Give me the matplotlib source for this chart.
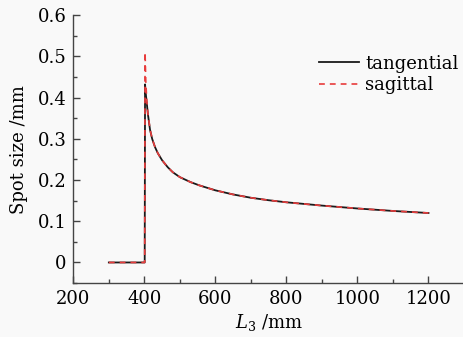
import matplotlib
matplotlib.use("Agg")
import matplotlib.pyplot as plt
from matplotlib.ticker import MultipleLocator

plt.rcParams['font.family'] = ['DejaVu Serif']
plt.rcParams['mathtext.fontset'] = 'dejavuserif'

tan_x = [300, 401, 402, 404, 407, 410, 416, 422, 430, 438, 450, 466, 480, 500, 530, 555,
         600, 650, 700, 750, 800, 900, 1000, 1100, 1200]
tan_y = [0, 0, 0.432, 0.41, 0.385, 0.36, 0.322, 0.30, 0.28, 0.265, 0.248, 0.231, 0.219,
         0.207, 0.195, 0.187, 0.175, 0.165, 0.157, 0.151, 0.146, 0.138, 0.131, 0.125, 0.120]
sag_x = [300, 401, 402, 404, 407, 410, 416, 422, 430, 438, 450, 466, 480, 500, 530, 555,
         600, 650, 700, 750, 800, 900, 1000, 1100, 1200]
sag_y = [0, 0, 0.51, 0.44, 0.39, 0.362, 0.323, 0.30, 0.28, 0.265, 0.248, 0.231, 0.219,
         0.207, 0.195, 0.187, 0.175, 0.165, 0.157, 0.151, 0.146, 0.138, 0.131, 0.125, 0.120]

bg = '#f9f9f9'
fig = plt.figure(figsize=(4.64, 3.37), dpi=100, facecolor=bg)
ax = fig.add_axes([0.158, 0.160, 0.842, 0.795], facecolor=bg)

ax.plot(tan_x, tan_y, color='#1a1a1a', lw=1.3, label='tangential')
ax.plot(sag_x, sag_y, color='#e83c3c', lw=1.2, ls=(0, (3.5, 3)), label='sagittal')

ax.set_xlim(200, 1300)
ax.set_ylim(-0.05, 0.6)
ax.xaxis.set_minor_locator(MultipleLocator(100))
ax.yaxis.set_minor_locator(MultipleLocator(0.05))
ax.set_xticks([200, 400, 600, 800, 1000, 1200])
ax.set_xticklabels(['200', '400', '600', '800', '1000', '1200'])
ax.set_yticks([0, 0.1, 0.2, 0.3, 0.4, 0.5, 0.6])
ax.set_yticklabels(['0', '0.1', '0.2', '0.3', '0.4', '0.5', '0.6'])

for s in ['top', 'right']:
    ax.spines[s].set_visible(False)
for s in ['left', 'bottom']:
    ax.spines[s].set_color('#444444')
    ax.spines[s].set_linewidth(1.0)

ax.tick_params(which='major', direction='in', length=5, width=1, color='#444444',
               labelsize=13, pad=5)
ax.tick_params(which='minor', direction='in', length=3, width=1, color='#444444')

ax.set_xlabel('$L_3$ /mm', fontsize=13, labelpad=3)
ax.set_ylabel('Spot size /mm', fontsize=13, labelpad=7)

leg = ax.legend(loc='upper right', bbox_to_anchor=(1.005, 0.88), frameon=False,
                fontsize=13, handlelength=2.2, handletextpad=0.35, labelspacing=0.2,
                borderaxespad=0.0)

fig.savefig('out.png', dpi=100, facecolor=bg)
